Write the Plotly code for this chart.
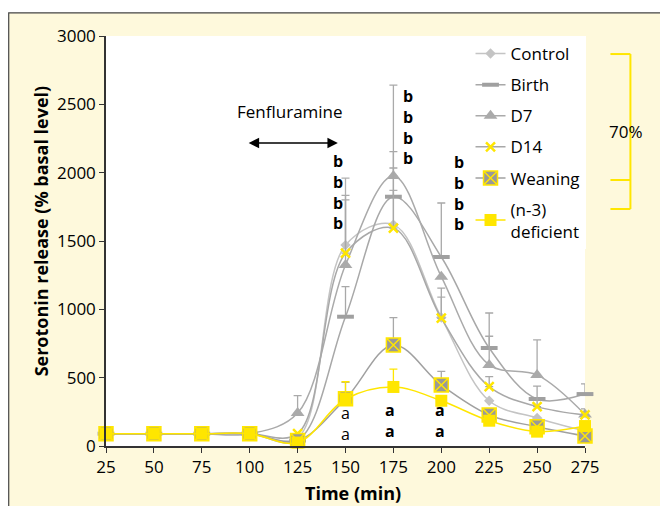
import plotly.graph_objects as go

time = [25, 50, 75, 100, 125, 150, 175, 200, 225, 250, 275]

control = [90, 90, 90, 90, 60, 1470, 1620, 940, 331, 205, 110]
birth = [90, 90, 90, 90, 40, 946, 1824, 1383, 717, 344, 380]
d7 = [90, 90, 90, 90, 241, 1324, 1976, 1239, 593, 520, 230]
d14 = [90, 90, 90, 90, 90, 1411, 1594, 935, 434, 288, 227]
weaning = [90, 90, 90, 90, 40, 345, 739, 446, 227, 141, 73]
deficient = [90, 90, 90, 90, 25, 344, 432, 331, 185, 105, 146]

control_err = [0, 0, 0, 0, 0, 490, 250, 150, 0, 0, 0]
birth_err = [0, 0, 0, 0, 0, 220, 330, 395, 256, 0, 74]
d7_err = [0, 0, 0, 0, 127, 510, 665, 0, 210, 256, 0]
d14_err = [0, 0, 0, 0, 0, 390, 440, 220, 73, 150, 44]
weaning_err = [0, 0, 0, 0, 0, 120, 200, 100, 0, 0, 0]
deficient_err = [0, 0, 0, 0, 0, 126, 130, 0, 0, 0, 0]

x_ticks = [25, 50, 75, 100, 125, 150, 175, 200, 225, 250, 275]
y_ticks = [0, 500, 1000, 1500, 2000, 2500, 3000]

YEL = "#FFE600"
FONT = "Open Sans"

fig = go.Figure()


def err(arr, color):
    return dict(type="data", array=arr, arrayminus=[0] * len(arr), symmetric=False,
                color=color, thickness=1.3, width=4)


series = [
    ("Control", control, control_err, "#C4C4C4", dict(symbol="diamond", size=8, color="#C4C4C4"), "#B0B0B0"),
    ("Birth", birth, birth_err, "#A8A8A8", dict(symbol="line-ew", size=12, line=dict(width=4, color="#A0A0A0")), "#A8A8A8"),
    ("D7", d7, d7_err, "#AAAAAA", dict(symbol="triangle-up", size=12, color="#AAAAAA"), "#AAAAAA"),
    ("D14", d14, d14_err, "#A8A8A8", dict(symbol="x-thin", size=9, color=YEL, line=dict(width=2.5, color=YEL)), "#A8A8A8"),
    ("Weaning", weaning, weaning_err, "#A0A0A0", dict(symbol="square-x", size=14, color="#999999", line=dict(width=1.5, color=YEL)), "#A8A8A8"),
    ("(n-3)<br>deficient", deficient, deficient_err, YEL, dict(symbol="square", size=12, color=YEL), YEL),
]

for i, (name, ys, es, lc, mk, ec) in enumerate(series):
    fig.add_trace(go.Scatter(
        x=time, y=ys, name=name, mode="lines+markers",
        line=dict(color=lc, width=1.5, shape="spline"),
        marker=mk, error_y=err(es, ec), cliponaxis=False,
        legendgroup=str(i),
    ))

annotations = []
# Significance letters (stacked)
b_sets = [(146.1, 1858), (182.6, 2334), (209.1, 1848)]
for xx, yy in b_sets:
    annotations.append(dict(x=xx, y=yy, text="<b>b<br>b<br>b<br>b</b>", showarrow=False,
                            xanchor="center", yanchor="middle",
                            font=dict(family=FONT, size=16, color="black")))
a_sets = [(150.2, 168, False), (173.2, 183, True), (199.2, 183, True)]
for xx, yy, bold in a_sets:
    annotations.append(dict(x=xx, y=yy, text="<b>a<br>a</b>" if bold else "a<br>a", showarrow=False,
                            xanchor="center", yanchor="middle",
                            font=dict(family=FONT, size=16, color="black")))

annotations.append(dict(x=121, y=2451, text="Fenfluramine", showarrow=False,
                        xanchor="center", yanchor="middle",
                        font=dict(family=FONT, size=17, color="black")))
annotations.append(dict(x=146, y=2217, ax=98.7, ay=2217, axref="x", ayref="y", xref="x", yref="y",
                        text="", showarrow=True, arrowhead=2, arrowside="end+start",
                        arrowsize=1.3, arrowwidth=1.6, arrowcolor="black"))
annotations.append(dict(x=1.0865, y=0.766, xref="paper", yref="paper", text="70%", showarrow=False,
                        xanchor="center", yanchor="middle",
                        font=dict(family=FONT, size=17, color="black")))
# axis titles
annotations.append(dict(x=0.5156, y=-0.1146, xref="paper", yref="paper", text="<b>Time (min)</b>",
                        xanchor="center", yanchor="middle",
                        showarrow=False, font=dict(family=FONT, size=18, color="black")))
annotations.append(dict(x=-0.1365, y=0.525, xref="paper", yref="paper",
                        text="<b>Serotonin release (% basal level)</b>", textangle=-90,
                        xanchor="center", yanchor="middle",
                        showarrow=False, font=dict(family=FONT, size=18, color="black")))

shapes = [
    dict(type="rect", xref="paper", yref="paper", x0=-0.25, x1=1.4, y0=1.0565, y1=1.2,
         fillcolor="white", line=dict(width=0), layer="below"),
    dict(type="rect", xref="paper", yref="paper", x0=-0.25, x1=-0.2031, y0=-0.3, y1=1.2,
         fillcolor="white", line=dict(width=0), layer="below"),
    # outer frame
    dict(type="rect", xref="paper", yref="paper", x0=-0.2031, x1=1.3, y0=-0.3, y1=1.0565,
         line=dict(color="#444444", width=1.2), fillcolor="rgba(0,0,0,0)", layer="below"),
    # bracket
    dict(type="line", xref="paper", yref="paper", x0=1.0948, x1=1.0948, y0=0.578, y1=0.956,
         line=dict(color=YEL, width=2)),
    dict(type="line", xref="paper", yref="paper", x0=1.0531, x1=1.0948, y0=0.956, y1=0.956,
         line=dict(color=YEL, width=2)),
    dict(type="line", xref="paper", yref="paper", x0=1.0531, x1=1.0948, y0=0.6488, y1=0.6488,
         line=dict(color=YEL, width=2)),
    dict(type="line", xref="paper", yref="paper", x0=1.0531, x1=1.0948, y0=0.578, y1=0.578,
         line=dict(color=YEL, width=2)),
]

fig.update_layout(
    width=660, height=506,
    margin=dict(l=105.5, r=74.5, t=36, b=60),
    paper_bgcolor="#FEF9DC",
    plot_bgcolor="white",
    font=dict(family=FONT, size=17, color="black"),
    showlegend=True,
    legend=dict(x=0.761, y=1.0, xanchor="left", yanchor="top", bgcolor="white",
                font=dict(family=FONT, size=17, color="black"), tracegroupgap=6,
                itemwidth=30),
    annotations=annotations,
    shapes=shapes,
    xaxis=dict(range=[25, 275], tickvals=x_ticks, ticktext=[str(v) for v in x_ticks],
               showgrid=False, zeroline=False, showline=True, linecolor="#333333", linewidth=1.5,
               ticks="outside", ticklen=5, tickcolor="#333333"),
    yaxis=dict(range=[0, 3000], tickvals=y_ticks, ticktext=[str(v) for v in y_ticks],
               showgrid=False, zeroline=False, showline=True, linecolor="#333333", linewidth=1.5,
               ticks="outside", ticklen=5, tickcolor="#333333"),
)

fig.write_html("out.html")
